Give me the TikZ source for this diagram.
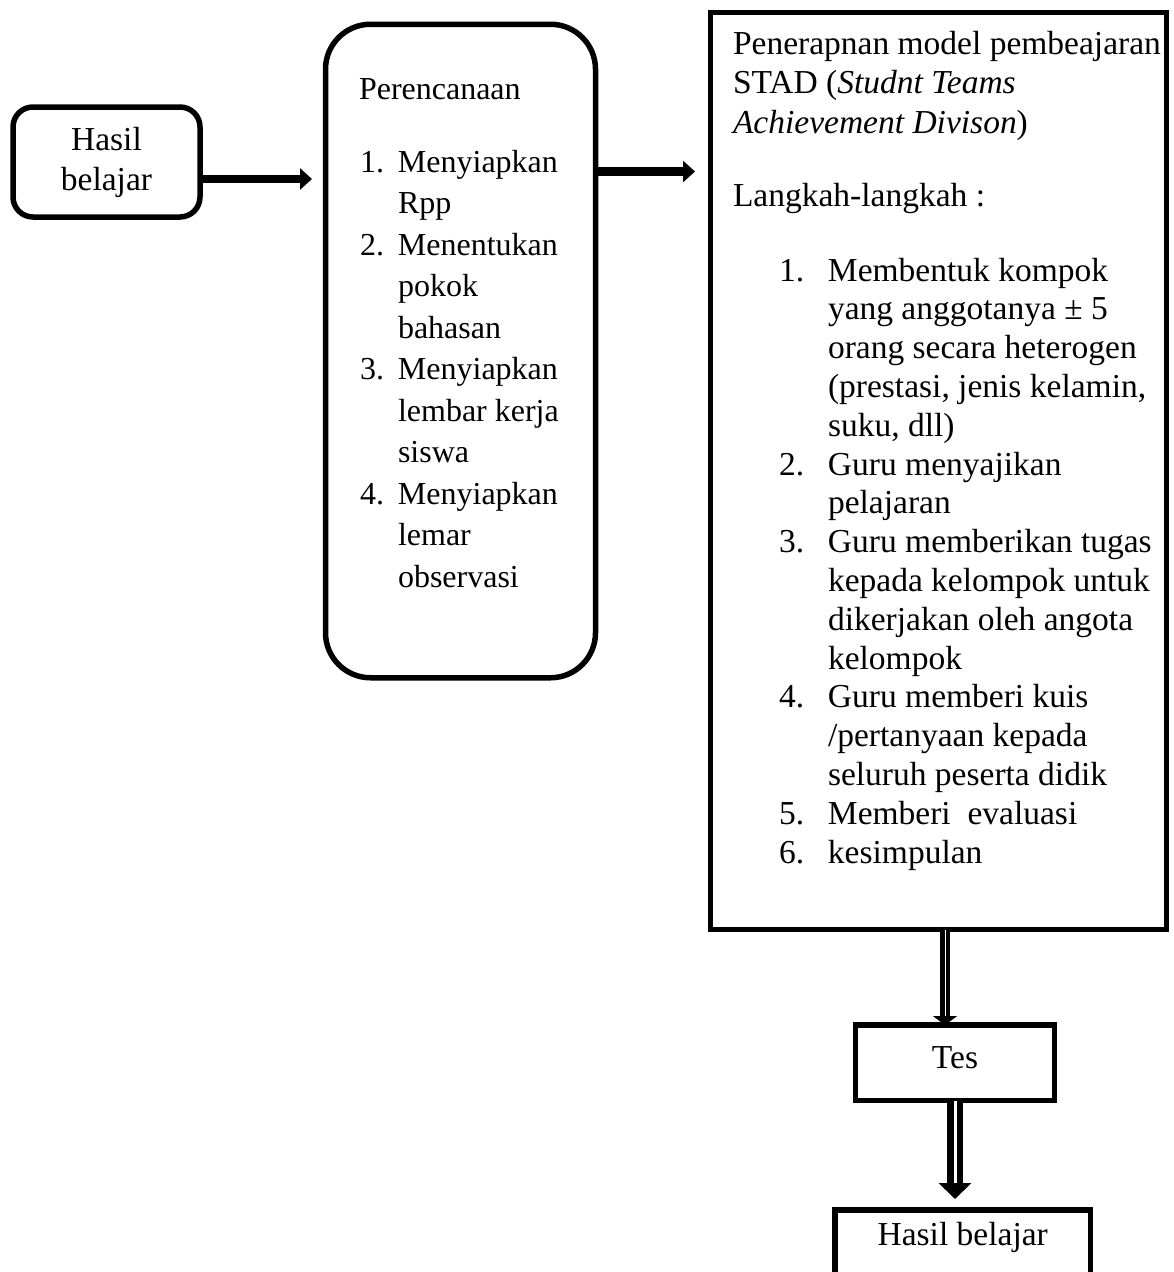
\documentclass[tikz,border=0pt]{standalone}
\usepackage{fontspec}
\setmainfont{Liberation Serif}
\usetikzlibrary{arrows.meta}
\begin{document}
\begin{tikzpicture}[x=1pt,y=-1pt,
  every node/.style={inner sep=0pt, outer sep=0pt},
  txt/.style={font=\fontsize{33.5}{38.8}\selectfont},
  txtc/.style={font=\fontsize{33.5}{40}\selectfont},
  txtb/.style={font=\fontsize{32}{41.5}\selectfont},
  rbox/.style={draw, line width=5.5pt, rounded corners=#1},
  sqbox/.style={draw, line width=5.5pt},
  arr/.style={line width=8.5pt, -{Triangle[length=12pt,width=21pt]}},
  darrA/.style={line width=4.5pt, double=white, double distance=1pt, -{Triangle[length=9pt,width=24pt]}},
  darrB/.style={line width=6.5pt, double=white, double distance=3pt, -{Triangle[length=16pt,width=32pt]}}
]
\useasboundingbox (0,0) rectangle (1173,1272);
\fill[white] (0,0) rectangle (1173,1272);

% boxes
\node[rbox=20pt, txtc, minimum width=187pt, minimum height=110pt, align=center] (hb1) at (106.5,162) {Hasil\\belajar};
\node[rbox=45pt, minimum width=270pt, minimum height=653.5pt] (plan) at (460.5,351) {};
\node[sqbox, minimum width=456pt, minimum height=917pt] (stad) at (938.5,471) {};
\node[sqbox, txt, anchor=north, minimum width=199pt, text height=43pt, text depth=32.5pt] (tes) at (955,1025) {Tes};
\node[sqbox, txt, anchor=north, minimum width=255.5pt, text height=35pt, text depth=90pt] (hb2) at (962.75,1210) {Hasil belajar};

% texts of planning box
\node[txtb, anchor=base west] (plantitle) at (359,99) {Perencanaan};
\node[txtb, anchor=base west] (planlist) at (360,172) {\begin{tabular}[t]{@{}p{38pt}@{}l@{}}
1. & Menyiapkan\\
   & Rpp\\
2. & Menentukan\\
   & pokok\\
   & bahasan\\
3. & Menyiapkan\\
   & lembar kerja\\
   & siswa\\
4. & Menyiapkan\\
   & lemar\\
   & observasi
\end{tabular}};

% texts of STAD box
\node[txt, anchor=base west] (stadintro) at (733,54) {\begin{tabular}[t]{@{}l@{}}
Penerapnan model pembeajaran\\[0.8pt]
STAD (\textit{Studnt Teams}\\[0.8pt]
\textit{Achievement Divison})\\[34pt]
Langkah-langkah :
\end{tabular}};
\node[txt, anchor=base west] (stadlist) at (779,281) {\begin{tabular}[t]{@{}p{49pt}@{}l@{}}
1. & Membentuk kompok\\
   & yang anggotanya ± 5\\
   & orang secara heterogen\\
   & (prestasi, jenis kelamin,\\
   & suku, dll)\\
2. & Guru menyajikan\\
   & pelajaran\\
3. & Guru memberikan tugas\\
   & kepada kelompok untuk\\
   & dikerjakan oleh angota\\
   & kelompok\\
4. & Guru memberi kuis\\
   & /pertanyaan kepada\\
   & seluruh peserta didik\\
5. & Memberi\ \ evaluasi\\
6. & kesimpulan
\end{tabular}};

% connectors
\coordinate (ya) at (0,179);
\coordinate (yb) at (0,171.5);
\coordinate (xc) at (945,0);
\draw[arr, shorten >=13.5pt] (hb1.east |- ya) -- (plan.west |- ya);
\draw[arr, shorten >=15.5pt] (plan.east |- yb) -- (stad.west |- yb);
\draw[darrA] (stad.south -| xc) -- (tes.north -| xc);
\draw[darrB, shorten >=11pt] (tes.south) -- (hb2.north -| tes.south);
\end{tikzpicture}
\end{document}
